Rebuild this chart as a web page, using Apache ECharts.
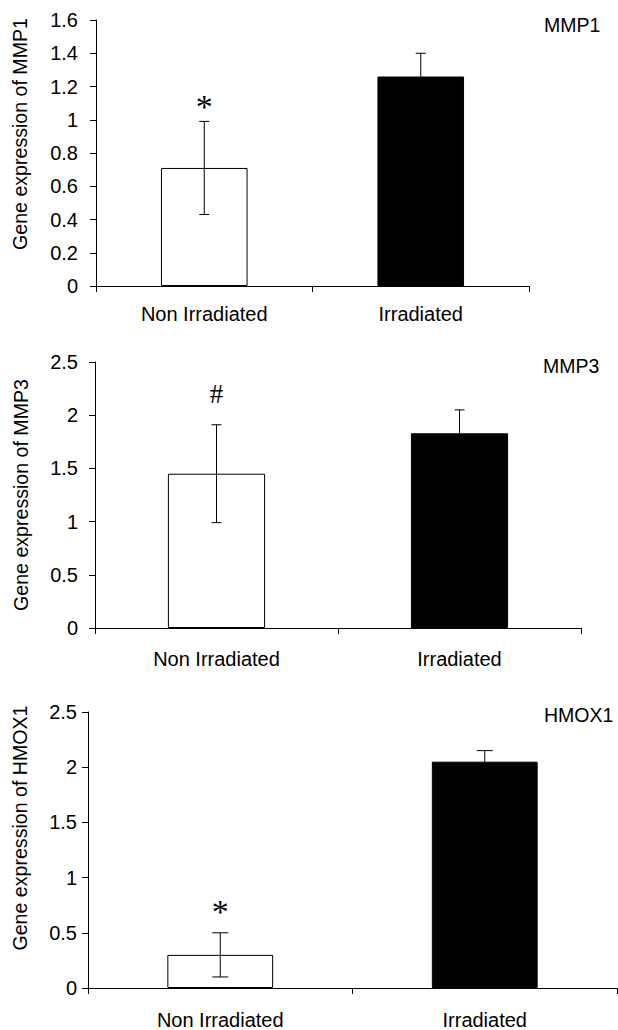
<!DOCTYPE html>
<html>
<head>
<meta charset="utf-8">
<script src="https://cdn.jsdelivr.net/npm/echarts@6/dist/echarts.min.js"></script>
<style>
  html, body { margin: 0; padding: 0; background: #fff; }
  #main { width: 618px; height: 1030px; }
</style>
</head>
<body>
<div id="main"></div>
<script>
// groups on the x axis
const categories = ['Non Irradiated', 'Irradiated'];
const genes = ['MMP1', 'MMP3', 'HMOX1'];

// mean and error of each gene, [non irradiated, irradiated]
const mmp1Mean = [0.71, 1.26];
const mmp1Err = [0.28, 0.14];
const mmp3Mean = [1.45, 1.83];
const mmp3Err = [0.46, 0.22];
const hmox1Mean = [0.30, 2.05];
const hmox1Err = [0.20, 0.10];

// significance marks over the bars
const mmp1Marks = ['*', ''];
const mmp3Marks = ['#', ''];
const hmox1Marks = ['*', ''];

// y axis ranges
const yMax = [1.6, 2.5, 2.5];
const yStep = [0.2, 0.5, 0.5];

const means = [mmp1Mean, mmp3Mean, hmox1Mean];
const errs = [mmp1Err, mmp3Err, hmox1Err];
const marks = [mmp1Marks, mmp3Marks, hmox1Marks];

const font = "'Liberation Sans', Arial, sans-serif";
const barColors = ['#fff', '#000'];

// layout per panel
const grids = [
  { left: 96, right: 89, top: 20, bottom: 744 },
  { left: 95, right: 37, top: 362, bottom: 402 },
  { left: 88, right: 1, top: 712, bottom: 41 }
];
const labelMargin = [18, 17, 11];
const xLabelMargin = [18, 21, 22];
const nameGap = [66, 64, 58];
const namePad = [[0, 0, 0, 38], [0, 0, 0, 0], [0, 0, 0, 44]];
const geneLabelPos = [{ left: 544, top: 15 }, { left: 543, top: 356 }, { left: 544, top: 705 }];
const capHalf = [5, 5, 8];
const markGap = [15, 31, 21];
const markSize = [34, 27, 34];

let myChart = echarts.init(document.getElementById('main'), null, { renderer: 'svg' });

let option = {
  animation: false,
  backgroundColor: '#fff',
  title: genes.map((g, i) => ({
    text: g,
    left: geneLabelPos[i].left,
    top: geneLabelPos[i].top,
    padding: 0,
    textStyle: { fontFamily: font, fontSize: 19.5, fontWeight: 'normal', color: '#000' }
  })),
  grid: grids.map(g => Object.assign({ containLabel: false }, g)),
  xAxis: genes.map((g, i) => ({
    type: 'category',
    gridIndex: i,
    data: categories,
    boundaryGap: true,
    axisLine: { lineStyle: { color: '#000', width: 1 } },
    axisTick: { show: true, length: 6, lineStyle: { color: '#000' } },
    axisLabel: { margin: xLabelMargin[i], color: '#000', fontFamily: font, fontSize: 20 }
  })),
  yAxis: genes.map((g, i) => ({
    type: 'value',
    gridIndex: i,
    min: 0,
    max: yMax[i],
    interval: yStep[i],
    name: 'Gene expression of ' + g,
    nameLocation: 'middle',
    nameGap: nameGap[i],
    nameRotate: 90,
    nameTextStyle: { fontFamily: font, fontSize: 19.6, color: '#000', padding: namePad[i] },
    splitLine: { show: false },
    axisLine: { show: true, lineStyle: { color: '#000', width: 1 } },
    axisTick: { show: true, length: 6, lineStyle: { color: '#000' } },
    axisLabel: { margin: labelMargin[i], color: '#000', fontFamily: font, fontSize: 20 }
  })),
  series: []
};

genes.forEach((g, i) => {
  option.series.push({
    type: 'bar',
    name: g,
    xAxisIndex: i,
    yAxisIndex: i,
    barWidth: '40%',
    data: means[i].map((v, k) => ({
      value: v,
      itemStyle: { color: barColors[k], borderColor: '#000', borderWidth: 1 }
    }))
  });
  // error bars and marks
  option.series.push({
    type: 'custom',
    name: g + ' error',
    xAxisIndex: i,
    yAxisIndex: i,
    z: 5,
    data: means[i].map((v, k) => [k, v, errs[i][k]]),
    renderItem: function (params, api) {
      const k = api.value(0);
      const m = api.value(1);
      const e = api.value(2);
      const top = api.coord([k, m + e]);
      const bot = api.coord([k, m - e]);
      const x = top[0];
      const h = capHalf[i];
      const style = { stroke: '#000', lineWidth: 1 };
      const children = [
        { type: 'line', shape: { x1: x, y1: top[1], x2: x, y2: bot[1] }, style: style },
        { type: 'line', shape: { x1: x - h, y1: top[1], x2: x + h, y2: top[1] }, style: style },
        { type: 'line', shape: { x1: x - h, y1: bot[1], x2: x + h, y2: bot[1] }, style: style }
      ];
      const mk = marks[i][k];
      if (mk) {
        children.push({
          type: 'text',
          style: {
            x: x,
            y: top[1] - markGap[i],
            text: mk,
            fill: '#000',
            font: markSize[i] + "px 'Liberation Serif', 'Times New Roman', serif",
            align: 'center',
            verticalAlign: 'middle'
          }
        });
      }
      return { type: 'group', children: children };
    }
  });
});

myChart.setOption(option);
window.onresize = myChart.resize;
</script>
</body>
</html>
